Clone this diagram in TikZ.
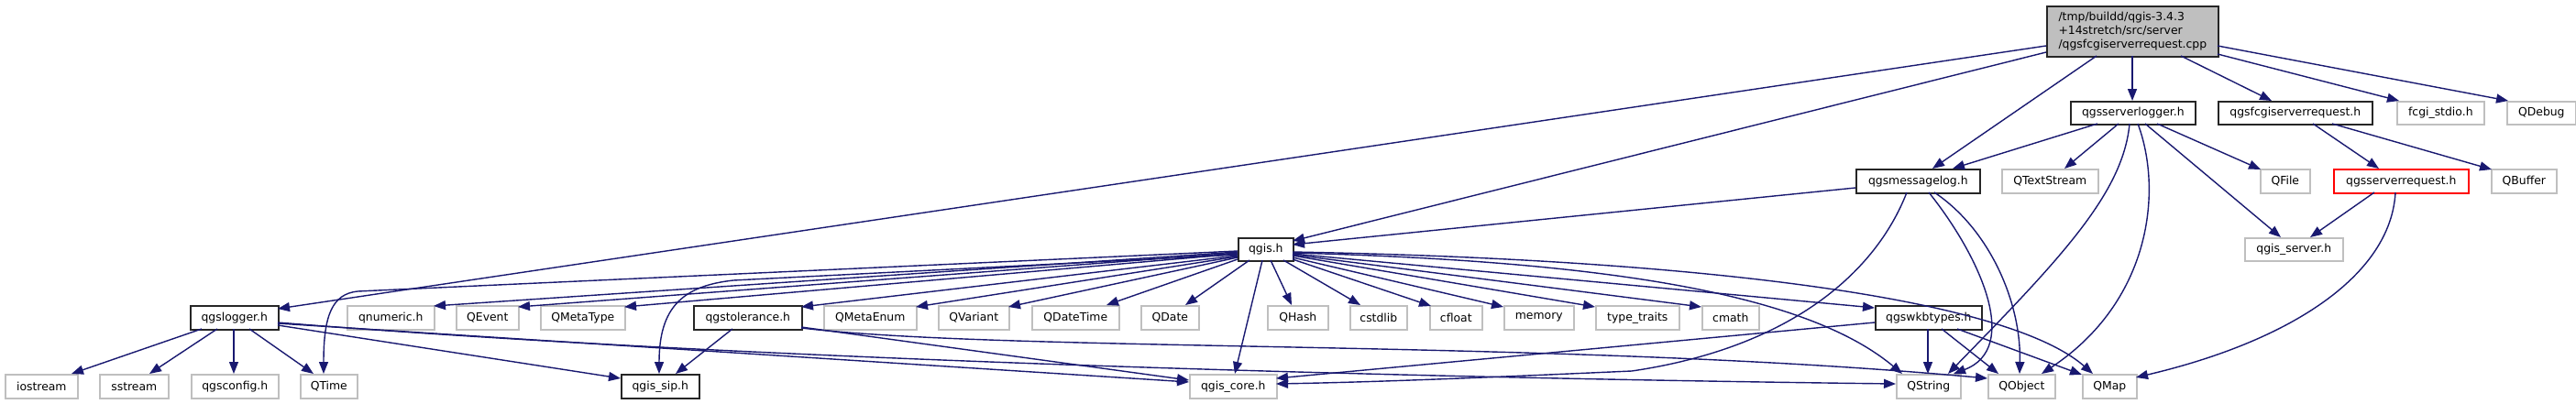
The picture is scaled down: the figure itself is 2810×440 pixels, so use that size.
\documentclass[tikz,border=0pt]{standalone}
\usepackage{fontspec}
\setmainfont{DejaVu Sans}
\usetikzlibrary{arrows.meta,calc}
\definecolor{edgeblue}{HTML}{191970}
\definecolor{greyborder}{HTML}{BFBFBF}
\definecolor{rootfill}{HTML}{BFBFBF}
\newcommand{\dxfont}{\fontsize{12.4}{15}\selectfont}
\tikzset{
  box/.style={draw, line width=1.6pt, minimum height=25pt, inner sep=0pt, anchor=north west, font=\dxfont, text=black},
  doc/.style={box, draw=black!85},
  ext/.style={box, draw=greyborder},
  trunc/.style={box, draw=red},
  hr/.style={minimum height=26pt},
  e/.style={draw=edgeblue, line width=1.4pt, -{Triangle[length=13pt,width=10pt]}},
}
\begin{document}
\begin{tikzpicture}[x=1pt,y=-1pt]
\useasboundingbox (0,0) rectangle (2810,440);
% root
\node[box, draw=black!85, fill=rootfill, minimum width=187pt, minimum height=55pt, align=left] (root) at (2232,6) {/tmp/buildd/qgis-3.4.3\\+14stretch/src/server\\/qgsfcgiserverrequest.cpp};
% row 1
\node[doc, minimum width=136pt] (ssl) at (2258,110) {qgsserverlogger.h};
\node[doc, minimum width=168pt] (fcgireq) at (2419,110) {qgsfcgiserverrequest.h};
\node[ext, minimum width=95pt] (fcgistdio) at (2614,110) {fcgi\_stdio.h};
\node[ext, minimum width=75pt] (qdebug) at (2734,110) {QDebug};
% row 2
\node[doc, hr, minimum width=135pt] (msglog) at (2024,184) {qgsmessagelog.h};
\node[ext, hr, minimum width=105pt] (qtextstream) at (2183,184) {QTextStream};
\node[ext, hr, minimum width=54pt] (qfile) at (2465,184) {QFile};
\node[trunc, hr, minimum width=147pt] (srvreq) at (2545,184) {qgsserverrequest.h};
\node[ext, hr, minimum width=71pt] (qbuffer) at (2717,184) {QBuffer};
% row 3
\node[doc, minimum width=60pt] (qgis) at (1350,259) {qgis.h};
\node[ext, minimum width=107pt] (qgisserver) at (2448,259) {qgis\_server.h};
% row 4
\node[doc, hr, minimum width=96pt] (qgslogger) at (207,333) {qgslogger.h};
\node[ext, hr, minimum width=95pt] (qnumeric) at (378,333) {qnumeric.h};
\node[ext, hr, minimum width=68pt] (qevent) at (497,333) {QEvent};
\node[ext, hr, minimum width=92pt] (qmetatype) at (589,333) {QMetaType};
\node[doc, hr, minimum width=118pt] (tol) at (756,333) {qgstolerance.h};
\node[ext, hr, minimum width=101pt] (qmetaenum) at (898,333) {QMetaEnum};
\node[ext, hr, minimum width=77pt] (qvariant) at (1023,333) {QVariant};
\node[ext, hr, minimum width=95pt] (qdatetime) at (1125,333) {QDateTime};
\node[ext, hr, minimum width=63pt] (qdate) at (1244,333) {QDate};
\node[ext, hr, minimum width=66pt] (qhash) at (1382,333) {QHash};
\node[ext, hr, minimum width=62pt] (cstdlib) at (1472,333) {cstdlib};
\node[ext, hr, minimum width=57pt] (cfloat) at (1559,333) {cfloat};
\node[ext, hr, minimum width=76pt] (memory) at (1640,333) {memory};
\node[ext, hr, minimum width=91pt] (typetraits) at (1740,333) {type\_traits};
\node[ext, hr, minimum width=62pt] (cmath) at (1856,333) {cmath};
\node[doc, hr, minimum width=116pt] (wkb) at (2045,333) {qgswkbtypes.h};
% row 5
\node[ext, hr, minimum width=79pt] (iostream) at (5,408) {iostream};
\node[ext, hr, minimum width=75pt] (sstream) at (108,408) {sstream};
\node[ext, hr, minimum width=95pt] (qgsconfig) at (208,408) {qgsconfig.h};
\node[ext, hr, minimum width=62pt] (qtime) at (327,408) {QTime};
\node[doc, hr, minimum width=85pt] (sip) at (677,408) {qgis\_sip.h};
\node[ext, hr, minimum width=95pt] (core) at (1297,408) {qgis\_core.h};
\node[ext, hr, minimum width=70pt] (qstring) at (2068,408) {QString};
\node[ext, hr, minimum width=73pt] (qobject) at (2168,408) {QObject};
\node[ext, hr, minimum width=59pt] (qmap) at (2271,408) {QMap};

% root edges
\draw[e] ($(root.north west)+(0,44)$) -- ($(qgslogger.north west)+(96,4)$);
\draw[e] ($(root.north west)+(0,51)$) -- ($(qgis.north west)+(60,4)$);
\draw[e] ($(root.north west)+(55,55)$) -- ($(msglog.north west)+(84,0)$);
\draw[e] ($(root.north west)+(94,55)$) -- ($(ssl.north west)+(68,0)$);
\draw[e] ($(root.north west)+(147,55)$) -- ($(fcgireq.north west)+(59,0)$);
\draw[e] ($(root.north west)+(187,53)$) -- ($(fcgistdio.north west)+(3,0)$);
\draw[e] ($(root.north west)+(187,44)$) -- ($(qdebug.north west)+(2,0)$);
% qgsserverlogger edges
\draw[e] ($(ssl.north west)+(30,25)$) -- ($(msglog.north west)+(106,0)$);
\draw[e] ($(ssl.north west)+(53,25)$) -- ($(qtextstream.north west)+(69,0)$);
\draw[e] ($(ssl.north west)+(65,25)$) .. controls +(-7,75) and +(125,-128) .. ($(qstring.north west)+(57,0)$);
\draw[e] ($(ssl.north west)+(74,25)$) .. controls +(28,75) and +(118,-78) .. ($(qobject.north west)+(59,0)$);
\draw[e] ($(ssl.north west)+(82,25)$) -- ($(qgisserver.north west)+(40,0)$);
\draw[e] ($(ssl.north west)+(95,25)$) -- ($(qfile.north west)+(1,1)$);
% qgsfcgiserverrequest edges
\draw[e] ($(fcgireq.north west)+(104,25)$) -- ($(srvreq.north west)+(50,0)$);
\draw[e] ($(fcgireq.north west)+(125,25)$) -- ($(qbuffer.north west)+(1,1)$);
% qgsserverrequest edges
\draw[e] ($(srvreq.north west)+(45,26)$) -- ($(qgisserver.north west)+(72,0)$);
\draw[e] ($(srvreq.north west)+(68,26)$) .. controls +(-5,90) and +(170,-40) .. ($(qmap.north west)+(59,4)$);
% qgsmessagelog edges
\draw[e] ($(msglog.north west)+(0,21)$) -- ($(qgis.north west)+(60,8)$);
\draw[e] ($(msglog.north west)+(56,26)$) .. controls (2045,300) and (1950,380) .. (1780,405) .. controls (1600,413) and (1500,417) .. ($(core.north west)+(95,11)$);
\draw[e] ($(msglog.north west)+(80,26)$) .. controls +(56,70) and +(74,-28) .. ($(qstring.north west)+(63,0)$);
\draw[e] ($(msglog.north west)+(86,26)$) .. controls +(60,40) and +(2,-78) .. ($(qobject.north west)+(35,0)$);
% qgis.h edges
\draw[e] ($(qgis.north west)+(0,15)$) -- (390,318) .. controls (362,321) and (353,345) .. ($(qtime.north west)+(26,0)$);
\draw[e] ($(qgis.north west)+(0,16)$) -- ($(qnumeric.north west)+(95,1)$);
\draw[e] ($(qgis.north west)+(0,17)$) -- ($(qevent.north west)+(68,2)$);
\draw[e] ($(qgis.north west)+(0,18)$) -- ($(qmetatype.north west)+(92,2)$);
\draw[e] ($(qgis.north west)+(0,19)$) -- (800,306) .. controls (745,312) and (719,335) .. ($(sip.north west)+(42,0)$);
\draw[e] ($(qgis.north west)+(0,20)$) -- ($(tol.north west)+(118,2)$);
\draw[e] ($(qgis.north west)+(0,21)$) -- ($(qmetaenum.north west)+(101,2)$);
\draw[e] ($(qgis.north west)+(0,22)$) -- ($(qvariant.north west)+(77,2)$);
\draw[e] ($(qgis.north west)+(0,24)$) -- ($(qdatetime.north west)+(82,0)$);
\draw[e] ($(qgis.north west)+(13,25)$) -- ($(qdate.north west)+(49,0)$);
\draw[e] ($(qgis.north west)+(27,25)$) -- ($(core.north west)+(50,0)$);
\draw[e] ($(qgis.north west)+(36,25)$) -- ($(qhash.north west)+(27,0)$);
\draw[e] ($(qgis.north west)+(50,25)$) -- ($(cstdlib.north west)+(12,0)$);
\draw[e] ($(qgis.north west)+(60,24)$) -- ($(cfloat.north west)+(2,1)$);
\draw[e] ($(qgis.north west)+(60,22)$) -- ($(memory.north west)+(0,2)$);
\draw[e] ($(qgis.north west)+(60,20)$) -- ($(typetraits.north west)+(0,2)$);
\draw[e] ($(qgis.north west)+(60,19)$) -- ($(cmath.north west)+(0,2)$);
\draw[e] ($(qgis.north west)+(60,18)$) -- ($(wkb.north west)+(0,3)$);
\draw[e] ($(qgis.north west)+(60,17)$) .. controls +(340,9) and +(-105,-88) .. ($(qstring.north west)+(7,0)$);
\draw[e] ($(qgis.north west)+(60,16)$) .. controls +(390,7) and +(-103,-90) .. ($(qmap.north west)+(12,0)$);
% qgslogger.h edges
\draw[e] ($(qgslogger.north west)+(13,26)$) -- ($(iostream.north west)+(73,0)$);
\draw[e] ($(qgslogger.north west)+(30,26)$) -- ($(sstream.north west)+(55,0)$);
\draw[e] ($(qgslogger.north west)+(48,26)$) -- ($(qgsconfig.north west)+(47,0)$);
\draw[e] ($(qgslogger.north west)+(65,26)$) -- ($(qtime.north west)+(15,0)$);
\draw[e] ($(qgslogger.north west)+(96,22)$) -- ($(sip.north west)+(0,5)$);
\draw[e] ($(qgslogger.north west)+(96,20)$) -- ($(core.north west)+(0,9)$);
\draw[e] ($(qgslogger.north west)+(96,19)$) .. controls +(497,40) and +(-568,-7) .. ($(qstring.north west)+(0,11)$);
% qgstolerance.h edges
\draw[e] ($(tol.north west)+(43,26)$) -- ($(sip.north west)+(60,0)$);
\draw[e] ($(tol.north west)+(118,24)$) -- ($(core.north west)+(0,7)$);
\draw[e] ($(tol.north west)+(118,25)$) .. controls +(226,27) and +(-468,-43) .. ($(qobject.north west)+(0,5)$);
% qgswkbtypes.h edges
\draw[e] ($(wkb.north west)+(58,26)$) -- ($(qstring.north west)+(35,0)$);
\draw[e] ($(wkb.north west)+(73,26)$) -- ($(qobject.north west)+(12,0)$);
\draw[e] ($(wkb.north west)+(90,26)$) -- ($(qmap.north west)+(0,1)$);
\draw[e] ($(wkb.north west)+(0,19)$) -- ($(core.north west)+(95,5)$);
\end{tikzpicture}
\end{document}
